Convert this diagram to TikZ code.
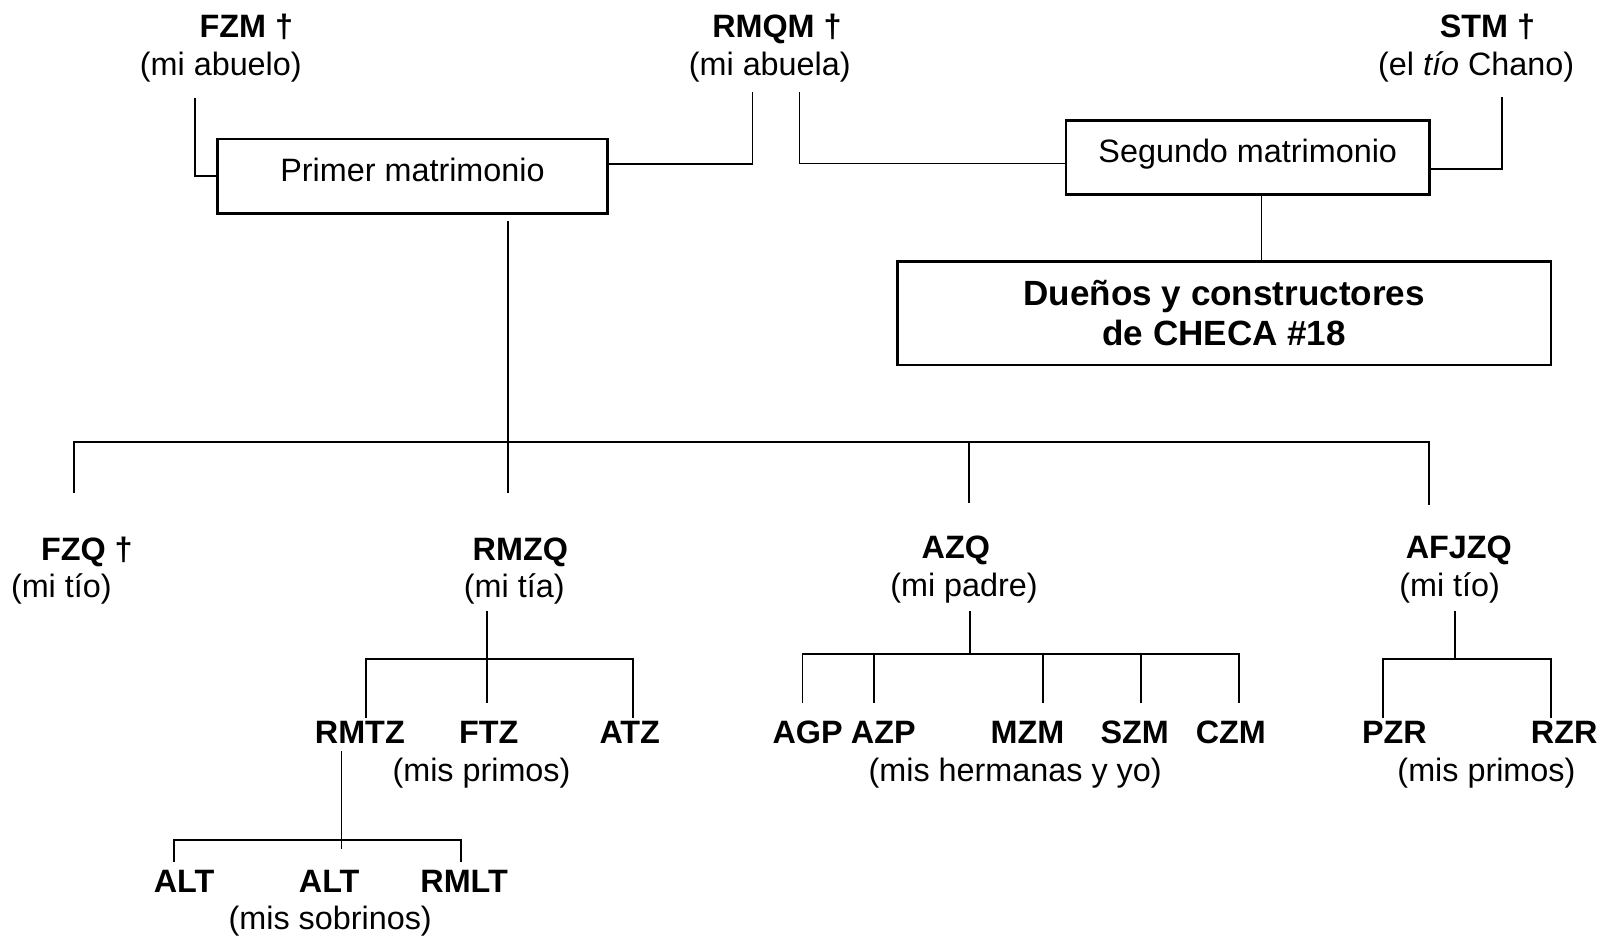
\documentclass[tikz,border=0pt]{standalone}
\usepackage{fontspec}
\setmainfont{Liberation Sans}
\begin{document}
\begin{tikzpicture}[x=0.01cm,y=-0.01cm]

% definiciones

% estilos de texto, cajas y lineas
\tikzstyle{nombre}     = [font=\fontsize{9}{10}\selectfont\bfseries,inner sep=0pt,text height=6.5pt,text depth=0pt]
\tikzstyle{parentesco} = [font=\fontsize{9}{10}\selectfont,inner sep=0pt,text height=8.2pt,text depth=1.9pt]
\tikzstyle{caja}       = [draw=black,line width=0.7pt,inner sep=0pt,font=\fontsize{9}{10}\selectfont]
\tikzstyle{rama}       = [line width=0.5pt]

% persona: #1 nombre del nodo, #2 ubicación, #3 texto
\newcommand{\persona}[3]{
	\node [nombre] (#1) at #2 {#3};
}
% parentesco: #1 nombre del nodo, #2 ubicación, #3 texto
\newcommand{\relacion}[3]{
	\node [parentesco] (#1) at #2 {#3};
}

% marco
\useasboundingbox (0,0) rectangle (1568,915);

% abuelos
\persona{fzm}{(241,25)}{FZM †}
\relacion{fzmrel}{(216,63)}{(mi abuelo)}
\persona{rmqm}{(760,25)}{RMQM †}
\relacion{rmqmrel}{(753,63)}{(mi abuela)}
\persona{stm}{(1455,25)}{STM †}
\relacion{stmrel}{(1444,63)}{(el \textit{tío} Chano)}

% matrimonios
\node [caja,minimum width=3.81cm,minimum height=0.73cm,text depth=3.4pt] (primer) at (403.5,172.5) {Primer matrimonio};
\node [caja,minimum width=3.55cm,minimum height=0.72cm,text depth=3.6pt] (segundo) at (1220.5,154) {Segundo matrimonio};
\node [caja,minimum width=6.39cm,minimum height=1.01cm,align=center,
       font=\fontsize{9.75}{11.1}\selectfont\bfseries] (duenos) at (1197.5,306.5)
       {Dueños y constructores\\de CHECA \#18};

% hijos
\persona{fzq}{(85,537)}{FZQ †}
\relacion{fzqrel}{(60,573)}{(mi tío)}
\persona{rmzq}{(509,537)}{RMZQ}
\relacion{rmzqrel}{(503,573)}{(mi tía)}
\persona{azq}{(935,535)}{AZQ}
\relacion{azqrel}{(943,572)}{(mi padre)}
\persona{afjzq}{(1427,535)}{AFJZQ}
\relacion{afjzqrel}{(1418,572)}{(mi tío)}

% nietos
\persona{rmtz}{(352,716)}{RMTZ}
\persona{ftz}{(478,716)}{FTZ}
\persona{atz}{(616,716)}{ATZ}
\relacion{primosuno}{(471,753)}{(mis primos)}
\persona{agp}{(790,716)}{AGP}
\persona{azp}{(864,716)}{AZP}
\persona{mzm}{(1005,716)}{MZM}
\persona{szm}{(1110,716)}{SZM}
\persona{czm}{(1204,716)}{CZM}
\relacion{hermanas}{(993,753)}{(mis hermanas y yo)}
\persona{pzr}{(1364,716)}{PZR}
\persona{rzr}{(1530,716)}{RZR}
\relacion{primosdos}{(1454,753)}{(mis primos)}

% bisnietos
\persona{altuno}{(180,862)}{ALT}
\persona{altdos}{(322,862)}{ALT}
\persona{rmlt}{(454,862)}{RMLT}
\relacion{sobrinos}{(323,898)}{(mis sobrinos)}

% ramas de los matrimonios
\begin{scope}[rama]
\coordinate (fzmpie) at (191,96);
\coordinate (rmqmpieuno) at (736,90);
\coordinate (rmqmpiedos) at (782,90);
\coordinate (stmpie) at (1469,95);
\draw (fzmpie) |- (primer.west);
\draw ([yshift=0.12cm]primer.east) -| (rmqmpieuno);
\draw (rmqmpiedos) |- ([yshift=-0.06cm]segundo.west);
\draw ([yshift=-0.11cm]segundo.east) -| (stmpie);
\draw ([xshift=0.135cm]segundo.south) -- ([xshift=0.135cm]segundo.south |- duenos.north);
\end{scope}

% ramas de los hijos
\begin{scope}[rama]
\coordinate (barrahijos) at (0,432);
\coordinate (primerpie) at (497,216);
\coordinate (fzqtope) at (72,482);
\coordinate (rmzqtope) at (497,482);
\coordinate (azqtope) at (948,492);
\coordinate (afjzqtope) at (1398,494);
\draw (primerpie) -- (rmzqtope);
\draw (fzqtope) |- (barrahijos -| afjzqtope) -- (afjzqtope);
\draw (barrahijos -| azqtope) -- (azqtope);
\end{scope}

% ramas de los nietos
\begin{scope}[rama]
% hijos de RMZQ
\coordinate (barrarmzq) at (0,645);
\coordinate (rmzqpie) at (476,598);
\coordinate (rmtztope) at (358,702);
\coordinate (ftztope) at (476,688);
\coordinate (atztope) at (619,702);
\draw (rmzqpie) -- (ftztope);
\draw (rmtztope) |- (barrarmzq -| atztope) -- (atztope);
% hijos de AZQ
\coordinate (barraazq) at (0,640);
\coordinate (azqpie) at (949,598);
\coordinate (agptope) at (785,688);
\coordinate (azptope) at (855,688);
\coordinate (mzmtope) at (1020,688);
\coordinate (szmtope) at (1116,688);
\coordinate (czmtope) at (1212,688);
\draw (azqpie) -- (barraazq -| azqpie);
\draw (agptope) |- (barraazq -| czmtope) -- (czmtope);
\foreach \n in {azptope,mzmtope,szmtope}
	\draw (barraazq -| \n) -- (\n);
% hijos de AFJZQ
\coordinate (barraafjzq) at (0,645);
\coordinate (afjzqpie) at (1423,598);
\coordinate (pzrtope) at (1353,702);
\coordinate (rzrtope) at (1517,702);
\draw (afjzqpie) -- (barraafjzq -| afjzqpie);
\draw (pzrtope) |- (barraafjzq -| rzrtope) -- (rzrtope);
\end{scope}

% ramas de los bisnietos
\begin{scope}[rama]
\coordinate (barrarmtz) at (0,822);
\coordinate (rmtzpie) at (334,735);
\coordinate (rmtzcruce) at (334,830);
\coordinate (altunotope) at (170,843);
\coordinate (rmlttope) at (451,843);
\draw (rmtzpie) -- (rmtzcruce);
\draw (altunotope) |- (barrarmtz -| rmlttope) -- (rmlttope);
\end{scope}

\end{tikzpicture}
\end{document}
